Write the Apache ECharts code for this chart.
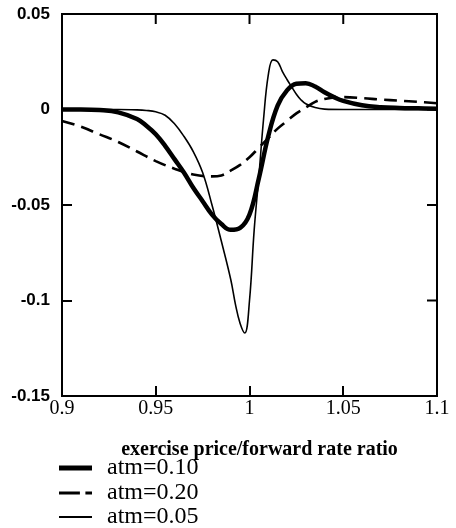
<!DOCTYPE html>
<html>
<head>
<meta charset="utf-8">
<script src="https://cdn.jsdelivr.net/npm/echarts@6/dist/echarts.min.js"></script>
<style>
html,body{margin:0;padding:0;background:#fff;}
#c{width:456px;height:528px;}
</style>
</head>
<body>
<div id="c"></div>
<script>
// exercise price / forward rate ratio values per series
var xAtm10 = [0.9, 0.91, 0.92, 0.93, 0.94, 0.945, 0.95, 0.955, 0.96, 0.965, 0.97, 0.975, 0.98, 0.985, 0.99, 0.995, 1.0, 1.005, 1.01, 1.015, 1.02, 1.025, 1.03, 1.035, 1.04, 1.045, 1.05, 1.06, 1.07, 1.08, 1.09, 1.1];
var yAtm10 = [0, 0, -0.0003, -0.0015, -0.005, -0.0085, -0.013, -0.019, -0.026, -0.033, -0.041, -0.048, -0.055, -0.060, -0.063, -0.062, -0.055, -0.036, -0.014, 0.002, 0.010, 0.0135, 0.0138, 0.012, 0.009, 0.0065, 0.0045, 0.0022, 0.0012, 0.0008, 0.0006, 0.0004];

var xAtm20 = [0.9, 0.91, 0.92, 0.93, 0.94, 0.95, 0.96, 0.97, 0.98, 0.985, 0.99, 0.995, 1.0, 1.005, 1.01, 1.015, 1.02, 1.025, 1.03, 1.035, 1.04, 1.045, 1.05, 1.06, 1.07, 1.08, 1.09, 1.1];
var yAtm20 = [-0.006, -0.009, -0.013, -0.017, -0.022, -0.027, -0.031, -0.034, -0.035, -0.0345, -0.032, -0.029, -0.025, -0.020, -0.015, -0.010, -0.006, -0.002, 0.001, 0.004, 0.0055, 0.0063, 0.0065, 0.006, 0.0052, 0.0046, 0.004, 0.0033];

var xAtm05 = [0.9, 0.92, 0.93, 0.94, 0.945, 0.95, 0.955, 0.96, 0.965, 0.97, 0.975, 0.98, 0.985, 0.99, 0.9925, 0.995, 0.9975, 1.0, 1.0025, 1.005, 1.0075, 1.01, 1.0125, 1.015, 1.0175, 1.02, 1.0225, 1.025, 1.0275, 1.03, 1.035, 1.04, 1.05, 1.06, 1.08, 1.1];
var yAtm05 = [0, 0, 0, -0.0002, -0.0005, -0.0012, -0.003, -0.0075, -0.014, -0.022, -0.033, -0.050, -0.069, -0.089, -0.102, -0.112, -0.117, -0.100, -0.063, -0.035, -0.005, 0.018, 0.026, 0.025, 0.020, 0.0157, 0.0118, 0.008, 0.005, 0.003, 0.001, 0.0002, 0, 0, 0, 0];

var xTicks = [0.9, 0.95, 1, 1.05, 1.1];
var yTicks = [-0.15, -0.1, -0.05, 0, 0.05];
var seriesNames = ['atm=0.10', 'atm=0.20', 'atm=0.05'];
var xTitle = 'exercise price/forward rate ratio';

function pairs(xs, ys) { return xs.map(function (x, i) { return [x, ys[i]]; }); }
function fmt(v) { return String(parseFloat(v.toFixed(2))); }

var serif = '"Liberation Serif", "DejaVu Serif", serif';
var sans = '"Liberation Sans", Arial, sans-serif';

var GRID = {left: 62, right: 19, top: 14, bottom: 132};
var W = 456, H = 528;
var TICK = 10, TW = 2;
var yMin = yTicks[0], yMax = yTicks[yTicks.length - 1];
var xMin = xTicks[0], xMax = xTicks[xTicks.length - 1];

var chart = echarts.init(document.getElementById('c'), null, {renderer: 'canvas'});

function legendRow(name, top, icon, h) {
  return {
    orient: 'horizontal', left: 59, top: top, itemWidth: 33, itemHeight: h,
    padding: 0, itemGap: 0, selectedMode: false, symbolKeepAspect: false,
    textStyle: {fontFamily: serif, fontSize: 24, color: '#000', padding: [0, 0, 0, 10]},
    data: [{name: name, icon: icon, itemStyle: {color: '#000', borderWidth: 0}}]
  };
}

chart.setOption({
  animation: false,
  backgroundColor: '#fff',
  grid: {left: GRID.left, right: GRID.right, top: GRID.top, bottom: GRID.bottom,
    show: true, borderColor: '#000', borderWidth: 2, backgroundColor: 'transparent'},
  xAxis: {
    type: 'value', min: xMin, max: xMax, interval: 0.05,
    name: xTitle, nameLocation: 'middle', nameGap: 44,
    nameTextStyle: {fontFamily: serif, fontWeight: 'bold', fontSize: 20, color: '#000', padding: [0, 0, 0, 20]},
    axisLine: {show: true, onZero: false, lineStyle: {color: '#000', width: 2}},
    axisTick: {show: true, inside: true, length: TICK, lineStyle: {color: '#000', width: TW}},
    splitLine: {show: false},
    axisLabel: {fontFamily: serif, fontSize: 20, color: '#000', margin: 3, formatter: fmt, showMinLabel: true, showMaxLabel: true}
  },
  yAxis: {
    type: 'value', min: yMin, max: yMax, interval: 0.05,
    axisLine: {show: true, onZero: false, lineStyle: {color: '#000', width: 2}},
    axisTick: {show: true, inside: true, length: TICK, lineStyle: {color: '#000', width: TW}},
    splitLine: {show: false},
    axisLabel: {fontFamily: sans, fontWeight: 'bold', fontSize: 17, color: '#000', margin: 12, formatter: fmt}
  },
  legend: [
    legendRow(seriesNames[0], 456, 'path://M0,0H30V5H0Z', 5),
    legendRow(seriesNames[1], 481, 'path://M0,0H19V3H0Z M24,0H30V3H24Z', 3),
    legendRow(seriesNames[2], 505, 'path://M0,0H30V2H0Z', 2)
  ],
  series: [{
    name: seriesNames[0], type: 'line', data: pairs(xAtm10, yAtm10), smooth: 0.4,
    showSymbol: false, symbol: 'none', lineStyle: {color: '#000', width: 4.5}, itemStyle: {color: '#000'}
  }, {
    name: seriesNames[1], type: 'line', data: pairs(xAtm20, yAtm20), smooth: 0.4,
    showSymbol: false, symbol: 'none', lineStyle: {color: '#000', width: 2.6, type: [13, 7]}, itemStyle: {color: '#000'}
  }, {
    name: seriesNames[2], type: 'line', data: pairs(xAtm05, yAtm05), smooth: 0.4,
    showSymbol: false, symbol: 'none', lineStyle: {color: '#000', width: 1.6}, itemStyle: {color: '#000'}
  }]
});

// inward tick marks on the top and right edges, placed through the chart's own scales
var tickEls = [];
function px(v) { return chart.convertToPixel({xAxisIndex: 0, yAxisIndex: 0}, v); }
function tickRect(x, y, w, h) {
  return {type: 'rect', shape: {x: x, y: y, width: w, height: h}, style: {fill: '#000'}, z: 10, silent: true};
}
xTicks.slice(1, -1).forEach(function (t) {
  var p = px([t, yMax]);
  tickEls.push(tickRect(p[0] - TW / 2, p[1], TW, TICK));
});
yTicks.slice(1, -1).forEach(function (t) {
  var p = px([xMax, t]);
  tickEls.push(tickRect(p[0] - TICK, p[1] - TW / 2, TICK, TW));
});
chart.setOption({graphic: {elements: tickEls}});
</script>
</body>
</html>
